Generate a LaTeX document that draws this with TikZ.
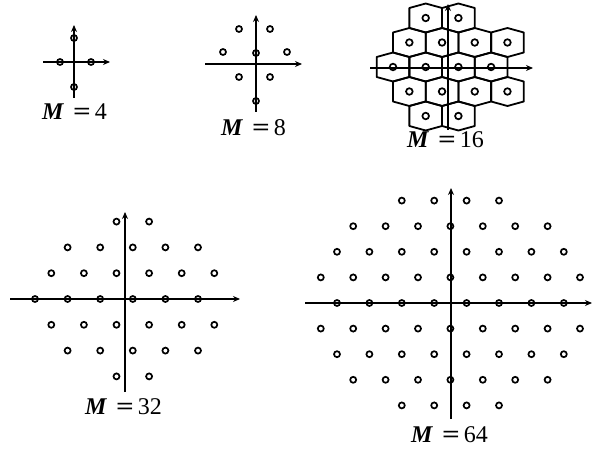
\documentclass[tikz,border=0pt]{standalone}
\usepackage{fontspec}
\usepackage{graphicx}
\setmainfont{Liberation Serif}
\usetikzlibrary{arrows.meta}
\newcommand{\mlab}[1]{{\fontsize{24}{24}\selectfont\textbf{\textit{M}}\hspace{9pt}\scalebox{1.3}[1]{\textbf{=}}\hspace{4pt}#1}}
\tikzset{
  axisline/.style={line width=1.7pt, -{Stealth[length=7pt,width=6pt]}},
  pt/.style={line width=1.7pt},
  hexcell/.style={line width=1.8pt, line join=round},
  lbl/.style={anchor=base west, inner sep=0pt}
}
\begin{document}
\begin{tikzpicture}[x=1pt,y=-1pt]
\useasboundingbox (0,0) rectangle (592,449);

% ---------------- M = 4 ----------------
\coordinate (a4l) at (43,62);  \coordinate (a4r) at (110,62);
\coordinate (a4b) at (74,98);  \coordinate (a4t) at (74,25);
\draw[axisline] (a4l) -- (a4r);
\draw[axisline] (a4b) -- (a4t);
\foreach \px/\py in {74/38, 60/62, 91/62, 74/87}
  \draw[pt] (\px,\py) circle[radius=3pt];
\node[lbl] (l4) at (42,120) {\mlab{4}};

% ---------------- M = 8 ----------------
\coordinate (a8l) at (205,64);  \coordinate (a8r) at (302,64);
\coordinate (a8b) at (256,112); \coordinate (a8t) at (256,15);
\draw[axisline] (a8l) -- (a8r);
\draw[axisline] (a8b) -- (a8t);
\foreach \px/\py in {256/53, 256/101, 239/29, 270/29, 223/52, 287/52, 239/77, 270/77}
  \draw[pt] (\px,\py) circle[radius=3pt];
\node[lbl] (l8) at (221,136) {\mlab{8}};

% ---------------- M = 16 ----------------
\def\hx{32.7}
\foreach \py/\off/\ks in {18/0/{1,2}, 42.5/1/{0,1,2,3}, 67/0/{0,1,2,3}, 91.5/1/{0,1,2,3}, 116/0/{1,2}}{
  \foreach \k in \ks {
    \pgfmathsetmacro{\xx}{393+\off*16.35+\k*\hx}
    \draw[hexcell] (\xx,\py) ++(0,-14.5) -- ++(16.35,4.5) -- ++(0,20) -- ++(-16.35,4.5)
       -- ++(-16.35,-4.5) -- ++(0,-20) -- cycle;
  }
}
\coordinate (a16l) at (370,68);  \coordinate (a16r) at (533,68);
\coordinate (a16b) at (448,130); \coordinate (a16t) at (448,4);
\draw[axisline] (a16l) -- (a16r);
\draw[axisline] (a16b) -- (a16t);
\foreach \py/\off/\ks in {18/0/{1,2}, 42.5/1/{0,1,2,3}, 67/0/{0,1,2,3}, 91.5/1/{0,1,2,3}, 116/0/{1,2}}{
  \foreach \k in \ks {
    \pgfmathsetmacro{\xx}{393+\off*16.35+\k*\hx}
    \draw[pt] (\xx,\py) circle[radius=3.3pt];
  }
}
\node[lbl] (l16) at (407,148) {\mlab{16}};

% ---------------- M = 32 ----------------
\coordinate (a32l) at (10,299);  \coordinate (a32r) at (240,299);
\coordinate (a32b) at (125,392); \coordinate (a32t) at (125,212);
\draw[axisline] (a32l) -- (a32r);
\draw[axisline] (a32b) -- (a32t);
\foreach \py/\xs/\ks in {221.6/51.3/{2,3}, 247.4/35/{1,2,3,4,5}, 273.2/51.3/{0,1,2,3,4,5},
    299/35/{0,1,2,3,4,5}, 324.8/51.3/{0,1,2,3,4,5}, 350.6/35/{1,2,3,4,5}, 376.4/51.3/{2,3}}{
  \foreach \k in \ks {
    \pgfmathsetmacro{\xx}{\xs+\k*32.6}
    \draw[pt] (\xx,\py) circle[radius=3pt];
  }
}
\node[lbl] (l32) at (85,414) {\mlab{32}};

% ---------------- M = 64 ----------------
\coordinate (a64l) at (305,303);  \coordinate (a64r) at (592,303);
\coordinate (a64b) at (451,419);  \coordinate (a64t) at (451,188);
\draw[axisline] (a64l) -- (a64r);
\draw[axisline] (a64b) -- (a64t);
\foreach \py/\xs/\ks in {200.6/337/{2,3,4,5}, 226.2/320.8/{1,2,3,4,5,6,7}, 251.8/337/{0,1,2,3,4,5,6,7},
    277.4/320.8/{0,1,2,3,4,5,6,7,8}, 303/337/{0,1,2,3,4,5,6,7}, 328.6/320.8/{0,1,2,3,4,5,6,7,8},
    354.2/337/{0,1,2,3,4,5,6,7}, 379.8/320.8/{1,2,3,4,5,6,7}, 405.4/337/{2,3,4,5}}{
  \foreach \k in \ks {
    \pgfmathsetmacro{\xx}{\xs+\k*32.4}
    \draw[pt] (\xx,\py) circle[radius=3pt];
  }
}
\node[lbl] (l64) at (411,442) {\mlab{64}};
\end{tikzpicture}
\end{document}
